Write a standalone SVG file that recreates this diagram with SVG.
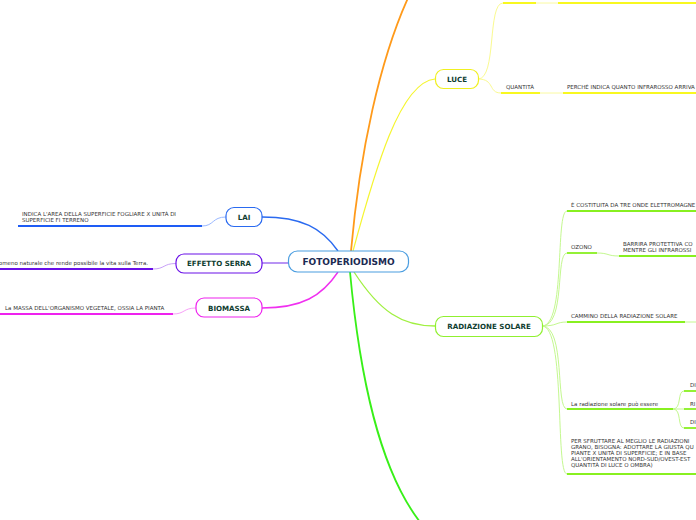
<svg xmlns="http://www.w3.org/2000/svg" width="696" height="520" viewBox="0 0 696 520">
<style>
.nd{fill:#fff;stroke-width:1.2}
.nt{font-family:"DejaVu Sans",Verdana,sans-serif;font-weight:bold;font-size:7.1px;fill:#0f3d30;text-anchor:middle}
.tx{font-family:"DejaVu Sans",Verdana,sans-serif;font-size:5.5px;fill:#333}
.ul{fill:none;stroke-width:1.8}
.cn{fill:none;stroke-width:1}
</style>
<rect width="696" height="520" fill="#fff"/>
<g id="connectors">
  <path d="M338,251 C322,228 302,217 262,217" stroke="#2a6af0" stroke-width="1.4" fill="none"/>
  <path d="M288,263 L262,263" stroke="#9a66f0" stroke-width="1.4" fill="none"/>
  <path d="M338,272 C322,296 302,308 262,308" stroke="#f030f0" stroke-width="1.4" fill="none"/>
  <path d="M351,251 C360,150 380,60 408,-2" stroke="#ff9a1a" stroke-width="1.8" fill="none"/>
  <path d="M353,251 C375,170 400,82 435,79" stroke="#f5f530" stroke-width="1.2" fill="none"/>
  <path d="M354,272 C380,312 402,326 435,326" stroke="#a0f040" stroke-width="1.3" fill="none"/>
  <path d="M350,272 C360,380 380,470 420,522" stroke="#38f018" stroke-width="1.8" fill="none"/>
  <!-- LAI child -->
  <path class="cn" d="M202,226 C214,226 212,217 226,217" stroke="#9ab8ff"/>
  <path class="ul" d="M18,226 L202,226" stroke="#1e5cf5"/>
  <!-- EFFETTO SERRA child -->
  <path class="cn" d="M153,269 C165,269 163,263.5 176,263.5" stroke="#c8a0f8"/>
  <path class="ul" d="M0,269 L153,269" stroke="#6a10e8"/>
  <!-- BIOMASSA child -->
  <path class="cn" d="M173,314 C185,314 183,308 196,308" stroke="#f8a0f8"/>
  <path class="ul" d="M0,314 L173,314" stroke="#ee22ee"/>
  <!-- LUCE children -->
  <path class="cn" d="M478,79 C497,79 487,3 503,3" stroke="#fafa90"/>
  <path class="ul" d="M503,3 L536,3" stroke="#f8f820"/>
  <path class="cn" d="M536,3 L558,3" stroke="#fafaa0"/>
  <path class="ul" d="M558,3 L696,3" stroke="#f8f820"/>
  <path class="cn" d="M478,79 C495,79 488,93 501,93" stroke="#fafa90"/>
  <path class="ul" d="M501,93 L540,93" stroke="#f8f820"/>
  <path class="cn" d="M540,93 L563,93" stroke="#fafaa0"/>
  <path class="ul" d="M563,93 L696,93" stroke="#f8f820"/>
  <!-- RADIAZIONE children -->
  <path class="cn" d="M542,326 C566,326 555,211 567,211" stroke="#c4f890"/>
  <path class="ul" d="M567,211 L696,211" stroke="#88f020"/>
  <path class="cn" d="M542,326 C566,326 555,253 567,253" stroke="#c4f890"/>
  <path class="ul" d="M567,253 L597,253" stroke="#88f020"/>
  <path class="cn" d="M597,253 C609,253 607,256 619,256" stroke="#c4f890"/>
  <path class="ul" d="M619,256 L696,256" stroke="#88f020"/>
  <path class="cn" d="M542,326 C558,326 555,322 567,322" stroke="#c4f890"/>
  <path class="ul" d="M567,322 L685,322" stroke="#88f020"/>
  <path class="cn" d="M685,322 L696,322" stroke="#c4f890"/>
  <path class="cn" d="M542,326 C566,326 555,409 567,409" stroke="#c4f890"/>
  <path class="ul" d="M567,409 L673,409" stroke="#88f020"/>
  <path class="cn" d="M673,409 C682,409 677,391 684,391" stroke="#c4f890"/>
  <path class="cn" d="M673,409 L684,409" stroke="#c4f890"/>
  <path class="cn" d="M673,409 C682,409 677,428 684,428" stroke="#c4f890"/>
  <path class="ul" d="M684,391 L696,391" stroke="#88f020"/>
  <path class="ul" d="M684,409 L696,409" stroke="#88f020"/>
  <path class="ul" d="M684,428 L696,428" stroke="#88f020"/>
  <path class="cn" d="M542,326 C566,326 555,474 567,474" stroke="#c4f890"/>
  <path class="ul" d="M567,474 L696,474" stroke="#88f020"/>
</g>
<g id="center">
  <rect x="288.5" y="251" width="120" height="21" rx="9" fill="#fff" stroke="#4a9de0" stroke-width="1.2"/>
  <text x="348.5" y="265" font-family="DejaVu Sans,Verdana,sans-serif" font-weight="bold" font-size="9" fill="#1b2a52" text-anchor="middle">FOTOPERIODISMO</text>
</g>
<g id="lai">
  <rect class="nd" x="226" y="207.5" width="36" height="19" rx="8" stroke="#2a6af0"/>
  <text class="nt" x="244" y="219.5">LAI</text>
  <text class="tx" x="22" y="216">INDICA L'AREA DELLA SUPERFICIE FOGLIARE X UNITÀ DI</text>
  <text class="tx" x="22" y="222">SUPERFICIE FI TERRENO</text>
</g>
<g id="effetto-serra">
  <rect class="nd" x="176" y="254" width="86" height="19" rx="8" stroke="#6a10e8"/>
  <text class="nt" x="219" y="266">EFFETTO SERRA</text>
  <text class="tx" x="148" y="265" text-anchor="end">omeno naturale che rende possibile la vita sulla Terra.</text>
</g>
<g id="biomassa">
  <rect class="nd" x="196" y="298" width="66" height="19" rx="8" stroke="#ee22ee"/>
  <text class="nt" x="229" y="310.5">BIOMASSA</text>
  <text class="tx" x="5" y="310">La MASSA DELL'ORGANISMO VEGETALE, OSSIA LA PIANTA</text>
</g>
<g id="luce">
  <rect class="nd" x="435.5" y="69.5" width="43" height="19" rx="8" stroke="#f0f020"/>
  <text class="nt" x="457" y="81.5">LUCE</text>
  <text class="tx" x="506" y="89">QUANTITÀ</text>
  <text class="tx" x="567" y="89">PERCHÉ INDICA QUANTO INFRAROSSO ARRIVA</text>
</g>
<g id="radiazione-solare">
  <rect class="nd" x="435.5" y="316.5" width="107" height="20" rx="8" stroke="#90f030"/>
  <text class="nt" x="489" y="329">RADIAZIONE SOLARE</text>
  <text class="tx" x="571" y="207">È COSTITUITA DA TRE ONDE ELETTROMAGNE</text>
  <text class="tx" x="571" y="249">OZONO</text>
  <text class="tx" x="623" y="245.5">BARRIRA PROTETTIVA CO</text>
  <text class="tx" x="623" y="252">MENTRE GLI INFRAROSSI</text>
  <text class="tx" x="571" y="318">CAMMINO DELLA RADIAZIONE SOLARE</text>
  <text class="tx" x="571" y="405.5">La radiazione solare può essere</text>
  <text class="tx" x="690" y="387">DI</text>
  <text class="tx" x="690" y="405.5">RI</text>
  <text class="tx" x="690" y="423.5">DI</text>
  <text class="tx" x="571" y="442.7">PER SFRUTTARE AL MEGLIO LE RADIAZIONI</text>
  <text class="tx" x="571" y="448.7">GRANO, BISOGNA: ADOTTARE LA GIUSTA QU</text>
  <text class="tx" x="571" y="454.7">PIANTE X UNITÀ DI SUPERFICIE; E IN BASE</text>
  <text class="tx" x="571" y="460.7">ALL'ORIENTAMENTO NORD-SUD/OVEST-EST</text>
  <text class="tx" x="571" y="466.7">QUANTITÀ DI LUCE O OMBRA)</text>
</g>
</svg>
